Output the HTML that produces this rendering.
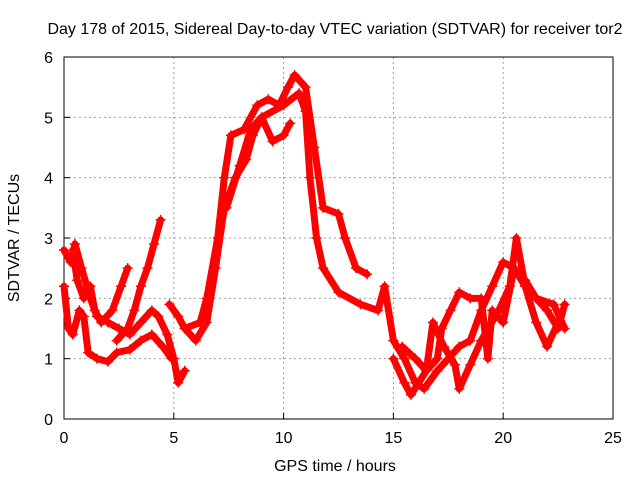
<!DOCTYPE html>
<html><head><meta charset="utf-8"><style>
body{margin:0;background:#fff}
svg{display:block;font-family:"Liberation Sans",sans-serif}
</style></head><body>
<svg id="chart" width="640" height="480">
<rect width="640" height="480" fill="#fff"/>
<g id="grid"></g>
<g id="axes"></g>
<g id="series"></g>
<text x="335" y="34" text-anchor="middle" font-size="16">Day 178 of 2015, Sidereal Day-to-day VTEC variation (SDTVAR) for receiver tor2</text>
<text x="335" y="471" text-anchor="middle" font-size="16">GPS time / hours</text>
<text transform="translate(19,238) rotate(-90)" text-anchor="middle" font-size="16">SDTVAR / TECUs</text>
</svg>
<script>
const xTicks=[0,5,10,15,20,25];
const yTicks=[0,1,2,3,4,5,6];
const traceA=[[0,2.8],[0.3,2.6],[0.5,2.9],[0.8,2.5],[1.2,2.0],[1.5,1.7],[2.0,1.6],[2.5,1.5],[3.0,1.4],[3.5,1.6],[4.0,1.8],[4.3,1.7],[4.7,1.4],[5.0,1.0],[5.2,0.6],[5.5,0.8]];
const traceB=[[0,2.2],[0.2,1.5],[0.4,1.4],[0.7,1.8],[0.9,1.7],[1.1,1.1],[1.5,1.0],[2.0,0.95],[2.4,1.1],[3.0,1.15],[3.5,1.3],[4.0,1.4],[4.5,1.2],[4.9,1.0]];
const traceC=[[0.4,2.8],[0.6,2.3],[0.9,2.0],[1.2,2.2],[1.4,1.8],[1.7,1.6],[2.2,1.8],[2.6,2.2],[2.9,2.5]];
const traceD=[[2.4,1.3],[2.9,1.5],[3.2,1.8],[3.5,2.2],[3.8,2.5],[4.1,2.9],[4.4,3.3]];
const traceE=[[4.8,1.9],[5.2,1.7],[5.5,1.5],[6.0,1.3],[6.5,1.6],[6.9,2.5],[7.3,3.5],[7.8,4.0],[8.3,4.3],[8.6,4.7],[9.0,5.0],[9.5,4.6],[10.0,4.7],[10.3,4.9]];
const traceF=[[5.5,1.5],[6.2,1.6],[6.5,2.0],[7.0,3.0],[7.3,4.0],[7.6,4.7],[8.2,4.8],[8.8,5.2],[9.3,5.3],[9.8,5.2],[10.2,5.5],[10.5,5.7],[11.0,5.5],[11.4,4.5],[11.8,3.5],[12.5,3.4],[12.8,3.0],[13.3,2.5],[13.8,2.4]];
const traceG=[[7.4,3.5],[8.0,4.2],[8.5,4.8],[9.0,5.0],[10.0,5.2],[10.7,5.4],[11.0,5.1],[11.2,4.0],[11.5,3.0],[11.8,2.5],[12.5,2.1],[13.5,1.9],[14.3,1.8],[14.6,2.2],[15.0,1.3],[15.5,1.0],[16.0,0.6],[16.4,0.5],[17.0,0.8],[18.0,1.2],[18.5,1.3],[19.0,1.8],[19.5,2.2],[20.0,2.6],[20.5,2.5],[21.0,2.2],[21.5,1.6],[22.0,1.2],[22.5,1.6]];
const traceH=[[15.0,1.0],[15.5,0.6],[15.8,0.4],[16.5,0.8],[16.8,1.6],[17.3,1.2],[17.8,0.9],[18.0,0.5],[18.5,0.9],[19.0,1.3],[19.8,1.8],[20.3,2.2],[20.6,3.0],[21.0,2.2],[21.5,2.0],[22.0,1.8],[22.5,1.5],[22.8,1.9]];
const traceI=[[15.4,1.2],[16.0,1.0],[16.5,0.8],[17.0,1.0],[17.2,1.5],[17.6,1.8],[18.0,2.1],[18.5,2.0],[19.0,2.0],[19.3,1.0],[19.5,1.8],[20.0,1.6],[20.5,2.5],[21.0,2.3],[21.5,2.0],[22.3,1.9],[22.8,1.5]];
const traces=[traceA,traceB,traceC,traceD,traceE,traceF,traceG,traceH,traceI];

const X0=64,X1=613,Y0=419,Y1=57;
const sx=v=>X0+(v-0)/(25-0)*(X1-X0);
const sy=v=>Y0-(v-0)/(6-0)*(Y0-Y1);
const NS='http://www.w3.org/2000/svg';
function mk(tag,attrs,parent){const e=document.createElementNS(NS,tag);for(const k in attrs)e.setAttribute(k,attrs[k]);parent.appendChild(e);return e;}
const grid=document.getElementById('grid'),axes=document.getElementById('axes'),ser=document.getElementById('series');
xTicks.forEach(t=>{
  if(t>0&&t<25){const g=mk('line',{x1:sx(t),x2:sx(t),y1:Y0,y2:Y1,stroke:'#a0a0a0','stroke-dasharray':'2,3'},grid);
  
  }
  const tk=mk('line',{x1:sx(t),x2:sx(t),y1:Y0,y2:Y0-6,stroke:'#000'},axes);
  
  
  const tx=mk('text',{x:sx(t),y:Y0+24,'text-anchor':'middle','font-size':'16'},axes);tx.textContent=t;
  
  
});
yTicks.forEach(t=>{
  if(t>0&&t<6){const g=mk('line',{x1:X0,x2:X1,y1:sy(t),y2:sy(t),stroke:'#a0a0a0','stroke-dasharray':'2,3'},grid);
  
  }
  const tk=mk('line',{x1:X0,x2:X0+6,y1:sy(t),y2:sy(t),stroke:'#000'},axes);
  
  
  const tx=mk('text',{x:X0-11,y:sy(t)+6,'text-anchor':'end','font-size':'16'},axes);tx.textContent=t;
  
  
});
const fr=mk('rect',{x:X0,y:Y1,width:X1-X0,height:Y0-Y1,fill:'none',stroke:'#000'},axes);


traces.forEach((tr,i)=>{
  const pl=mk('polyline',{points:tr.map(p=>sx(p[0])+','+sy(p[1])).join(' '),fill:'none',stroke:'#ff0000','stroke-width':'7','stroke-linejoin':'round','stroke-linecap':'round'},ser);
  
  
  tr.forEach(p=>{
    const x=sx(p[0]),y=sy(p[1]);
    const m=mk('path',{d:`M${x-5},${y}h10M${x},${y-5}v10`,stroke:'#ff0000','stroke-width':'1.5'},ser);
    
    
  });
});
</script>
</body></html>
